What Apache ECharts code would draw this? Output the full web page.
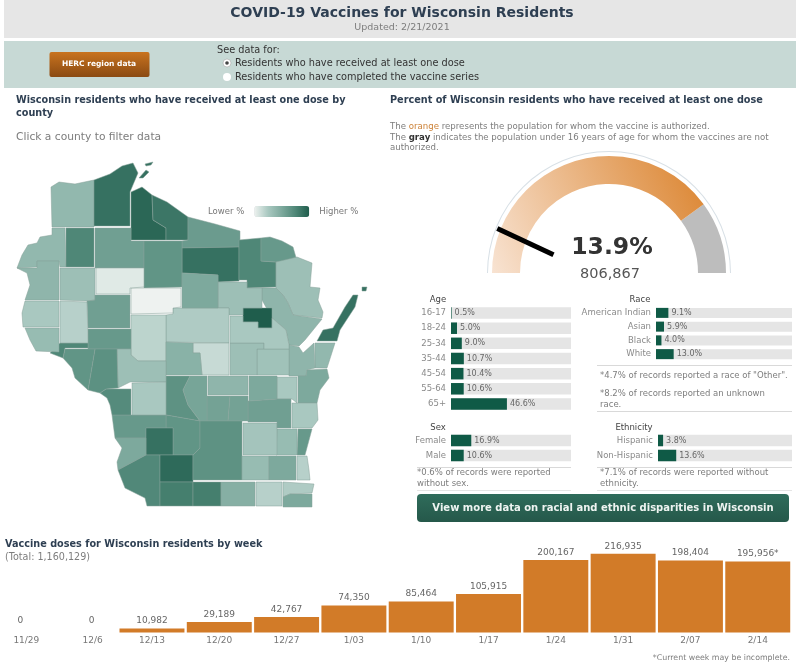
<!DOCTYPE html>
<html>
<head>
<meta charset="UTF-8">
<title>COVID-19 Vaccines for Wisconsin Residents</title>
<script src="https://cdn.jsdelivr.net/npm/echarts@6/dist/echarts.min.js"></script>
<style>
body,html{ padding:0; margin:0; background:#fff; }
#main{ width:800px; height:670px; }
</style>
</head>
<body>
<div id="main"></div>
<script>
// values
var weekLabels = ['11/29','12/6','12/13','12/20','12/27','1/03','1/10','1/17','1/24','1/31','2/07','2/14'];
var weekDoses = [0,0,10982,29189,42767,74350,85464,105915,200167,216935,198404,195956];

var gaugePct = 13.9;
var gaugeCount = '806,867';
var authorizedShare = 0.8;

var ageLabels = ['16-17','18-24','25-34','35-44','45-54','55-64','65+'];
var ageValues = [0.5,5.0,9.0,10.7,10.4,10.6,46.6];
var raceLabels = ['American Indian','Asian','Black','White'];
var raceValues = [9.1,5.9,4.0,13.0];
var sexLabels = ['Female','Male'];
var sexValues = [16.9,10.6];
var ethLabels = ['Hispanic','Non-Hispanic'];
var ethValues = [3.8,13.6];

// shade of each county, estimated as a percent from its colour
var countyPct = {
  Douglas:13.8, Bayfield:18.8, Ashland:19.4, Iron:18.5, Vilas:16.0, Oneida:18.8, Forest:17.5, Florence:16.2,
  Marinette:13.2, Oconto:14.0, Door:18.8, Kewaunee:13.8, Brown:14.0, Manitowoc:15.0, Calumet:12.5, Sheboygan:12.5,
  Ozaukee:16.2, Washington:13.5, Dodge:12.8, FondDuLac:15.7, Winnebago:15.0, Outagamie:13.0, Waupaca:13.2,
  Menominee:20, Langlade:13.2, Shawano:12.5, Marathon:12.3, Wood:11.8, Portage:11.4, Waushara:14.0,
  Marquette:15.5, GreenLake:15.5, Adams:14.3, Juneau:16.7, Columbia:15.3, Sauk:16.5, Vernon:16.2, Richland:18.8,
  Crawford:15.0, Grant:17.4, Iowa:19.2, Lafayette:18.0, Green:18.0, Dane:16.7, Rock:14.5, Walworth:12.0,
  Jefferson:13.5, Waukesha:15.0, Milwaukee:12.0, Racine:12.3, Kenosha:15.0, Burnett:13.8, Washburn:17.5,
  Sawyer:15.7, Price:16.5, Lincoln:15.0, Taylor:10, Rusk:10.5, Barron:13.2, Polk:14.0, Chippewa:15.7,
  EauClaire:16.2, Jackson:13.2, Monroe:12.5, LaCrosse:17.2, Trempealeau:16.8, Buffalo:16.5, Pepin:17.5,
  Pierce:13.5, StCroix:12.5, Dunn:12.0
};

// county outlines
var countyOutlines = {
  Douglas:[[[51,187],[59,182],[75,184],[94,180],[94,227],[52,227]]],
  Bayfield:[[[94,180],[110,174],[122,166],[133,163],[138,173],[130,192],[130,226],[94,226]],[[145,164],[153,162],[151,165],[146,166]],[[139,178],[146,170],[149,172],[143,178]]],
  Ashland:[[[131,192],[142,187],[152,195],[153,220],[166,228],[166,240],[131,240]]],
  Iron:[[[152,195],[167,202],[188,217],[188,240],[166,240],[166,228],[153,220]]],
  Vilas:[[[188,217],[215,224],[240,231],[240,247],[182,248],[182,241],[188,240]]],
  Oneida:[[[182,248],[239,247],[239,281],[218,282],[218,275],[182,273]]],
  Forest:[[[239,240],[261,238],[261,261],[276,262],[276,287],[247,288],[247,280],[239,280]]],
  Florence:[[[261,238],[270,237],[282,241],[293,247],[297,261],[276,262],[261,261]]],
  Marinette:[[[276,262],[297,257],[312,263],[310,287],[320,288],[318,300],[323,312],[322,318],[293,315],[288,303],[283,295],[276,288]]],
  Oconto:[[[262,288],[276,288],[283,295],[288,303],[293,315],[322,319],[305,340],[299,346],[289,345],[286,330],[272,318],[262,300]]],
  Door:[[[317,341],[323,330],[333,328],[345,307],[353,295],[358,295],[355,307],[340,330],[337,341]],[[362,287],[367,287],[366,291],[362,291]]],
  Kewaunee:[[[315,343],[335,343],[327,368],[315,368]]],
  Brown:[[[289,345],[299,347],[303,353],[314,343],[315,368],[307,370],[306,376],[289,376]]],
  Manitowoc:[[[307,370],[327,369],[329,378],[320,390],[317,403],[298,403],[298,376],[306,376]]],
  Calumet:[[[277,377],[297,377],[297,403],[292,399],[277,399]]],
  Sheboygan:[[[292,403],[317,403],[318,420],[312,428],[292,428]]],
  Ozaukee:[[[298,429],[312,429],[305,455],[297,455]]],
  Washington:[[[277,429],[297,429],[297,455],[276,455]]],
  Dodge:[[[243,423],[277,423],[277,455],[243,455]]],
  FondDuLac:[[[248,401],[277,399],[291,399],[291,428],[277,428],[277,422],[248,422]]],
  Winnebago:[[[249,376],[277,376],[277,399],[249,401]]],
  Outagamie:[[[257,349],[289,349],[289,375],[257,375]]],
  Waupaca:[[[230,343],[264,343],[264,349],[257,349],[257,375],[230,375]]],
  Menominee:[[[243,308],[272,308],[272,328],[258,328],[258,322],[243,322]]],
  Langlade:[[[218,282],[247,282],[247,288],[262,288],[262,308],[243,308],[243,315],[229,315],[229,308],[218,308]]],
  Shawano:[[[230,316],[243,316],[243,322],[258,322],[258,328],[272,328],[272,318],[286,330],[289,345],[289,349],[264,349],[264,343],[230,343]]],
  Marathon:[[[166,315],[173,314],[173,308],[229,308],[229,343],[166,342]]],
  Wood:[[[131,315],[166,315],[166,361],[138,361],[131,355]]],
  Portage:[[[193,343],[229,343],[229,375],[202,375],[200,353],[193,353]]],
  Waushara:[[[208,376],[248,376],[248,395],[208,395]]],
  Marquette:[[[207,396],[230,396],[228,421],[207,421]]],
  GreenLake:[[[230,396],[248,396],[248,421],[228,421]]],
  Adams:[[[166,342],[193,343],[193,353],[200,353],[202,375],[166,375]]],
  Juneau:[[[166,376],[190,376],[183,390],[188,405],[200,421],[166,415]]],
  Columbia:[[[190,376],[207,376],[207,421],[200,421],[188,405],[183,390]]],
  Sauk:[[[166,415],[200,421],[200,448],[193,455],[173,455],[173,428],[166,428]]],
  Vernon:[[[112,415],[166,415],[166,428],[146,428],[146,438],[115,438]]],
  Richland:[[[146,428],[173,428],[173,455],[146,455]]],
  Crawford:[[[115,438],[146,438],[146,455],[118,470],[117,462],[122,448]]],
  Grant:[[[118,470],[146,455],[160,455],[160,506],[147,506],[145,498],[125,488]]],
  Iowa:[[[160,455],[193,455],[193,482],[160,482]]],
  Lafayette:[[[160,482],[193,482],[193,506],[160,506]]],
  Green:[[[193,482],[221,482],[221,506],[193,506]]],
  Dane:[[[200,421],[242,421],[242,480],[193,480],[193,455],[200,448]]],
  Rock:[[[221,482],[255,482],[255,506],[221,506]]],
  Walworth:[[[256,482],[282,482],[282,506],[256,506]]],
  Jefferson:[[[242,456],[269,456],[269,480],[242,480]]],
  Waukesha:[[[269,456],[296,456],[296,480],[269,480]]],
  Milwaukee:[[[297,456],[307,456],[309,470],[310,480],[297,480]]],
  Racine:[[[283,482],[314,484],[312,493],[290,494],[283,497]]],
  Kenosha:[[[283,497],[290,494],[312,494],[312,507],[283,507]]],
  Burnett:[[[52,228],[65,228],[66,267],[60,267],[59,261],[37,261],[37,267],[17,268],[22,255],[28,245],[37,243],[40,237],[52,235]]],
  Washburn:[[[66,228],[94,228],[94,267],[66,267]]],
  Sawyer:[[[95,228],[131,228],[131,241],[144,241],[144,268],[95,268]]],
  Price:[[[144,241],[182,241],[182,287],[144,288]]],
  Lincoln:[[[182,273],[218,275],[218,308],[182,308]]],
  Taylor:[[[131,288],[181,288],[181,307],[173,308],[173,313],[131,314]]],
  Rusk:[[[96,268],[144,268],[144,287],[130,288],[130,294],[96,294]]],
  Barron:[[[60,268],[95,268],[95,300],[87,301],[60,300]]],
  Polk:[[[17,268],[37,268],[37,261],[59,261],[59,300],[25,300],[30,285],[27,273]]],
  Chippewa:[[[95,295],[130,295],[130,328],[88,328],[87,301],[95,300]]],
  EauClaire:[[[88,329],[131,329],[131,349],[88,349]]],
  Jackson:[[[117,349],[131,349],[131,355],[138,361],[166,361],[166,382],[130,382],[118,388]]],
  Monroe:[[[132,383],[166,382],[166,415],[132,415]]],
  LaCrosse:[[[106,389],[131,389],[131,415],[112,415],[110,405],[107,398],[100,393]]],
  Trempealeau:[[[95,349],[117,349],[118,388],[106,389],[100,393],[88,390]]],
  Buffalo:[[[65,349],[95,349],[88,390],[75,378],[72,368],[63,358]]],
  Pepin:[[[50,353],[60,343],[88,343],[88,348],[65,348],[63,358]]],
  Pierce:[[[25,328],[59,328],[59,352],[36,351],[30,340]]],
  StCroix:[[[25,301],[59,301],[59,327],[23,327],[22,313]]],
  Dunn:[[[60,301],[87,302],[88,343],[60,343]]]
};

var DARK = '#2e3f52', GRAY = '#7d7d7d';
var FONT = '"DejaVu Sans"';

function txt(x, y, s, size, color, extra) {
    var st = { x: x, y: y, text: s, font: (extra && extra.weight ? extra.weight + ' ' : '') + size + 'px ' + FONT,
        fill: color, textAlign: (extra && extra.align) || 'left', textVerticalAlign: 'middle' };
    if (extra && extra.rich) st.rich = extra.rich;
    return { type: 'text', z: 5, style: st };
}
function rect(x, y, w, h, fill, r) {
    return { type: 'rect', z: 1, shape: { x: x, y: y, width: w, height: h, r: r || 0 }, style: { fill: fill } };
}

var features = Object.keys(countyOutlines).map(function (name) {
    return { type: 'Feature', properties: { name: name },
        geometry: { type: 'MultiPolygon', coordinates: countyOutlines[name].map(function (r) { return [r]; }) } };
});
echarts.registerMap('wisconsin', { type: 'FeatureCollection', features: features });

var myChart = echarts.init(document.getElementById('main'));

var series = [{
    type: 'map', map: 'wisconsin', silent: true,
    left: 17, top: 162, width: 350, height: 345, aspectScale: 1,
    projection: { project: function (p) { return p; }, unproject: function (p) { return p; } },
    label: { show: false },
    itemStyle: { borderColor: '#86a099', borderWidth: 0.5 },
    data: Object.keys(countyPct).map(function (k) { return { name: k, value: countyPct[k] }; })
}, {
    type: 'gauge', startAngle: 180, endAngle: 0, min: 0, max: 100,
    center: [609, 273], radius: 122, silent: true,
    axisLine: { lineStyle: { width: 1, color: [[1, '#d8e0e6']] } },
    axisTick: { show: false }, splitLine: { show: false }, axisLabel: { show: false },
    pointer: { show: false }, anchor: { show: false }, title: { show: false }, detail: { show: false },
    data: [{ value: 0 }]
}, {
    type: 'gauge', startAngle: 180, endAngle: 0, min: 0, max: 100,
    center: [609, 273], radius: 117, silent: true,
    axisLine: { lineStyle: { width: 28, color: [
        [authorizedShare, new echarts.graphic.LinearGradient(0, 1, 1, 0.2, [
            { offset: 0, color: '#f8e3d2' }, { offset: 1, color: '#dc8734' }])],
        [1, '#bdbdbd']] } },
    axisTick: { show: false }, splitLine: { show: false }, axisLabel: { show: false },
    pointer: { show: true, icon: 'rect', width: 5, length: 62, offsetCenter: [-7, -58], itemStyle: { color: '#000' } },
    anchor: { show: false },
    title: { offsetCenter: [1, 1], fontSize: 14.5, color: '#555', fontFamily: FONT },
    detail: { offsetCenter: [3, -25], fontSize: 23.5, fontWeight: 'bold', color: '#333', fontFamily: FONT, formatter: '{value}%', valueAnimation: false },
    data: [{ value: gaugePct, name: gaugeCount }]
}];

// weekly doses
var grids = [{ left: -16.3, width: 807.7, top: 545.5, height: 87, outerBoundsMode: 'none' }];
var xAxes = [{ type: 'category', gridIndex: 0, data: weekLabels,
    axisLine: { show: false }, axisTick: { show: false },
    axisLabel: { fontSize: 9, color: '#777', fontFamily: FONT, margin: 4, interval: 0,
        formatter: function (v, i) { return i === 0 ? '{a|' + v + '}' : i === 1 ? '{b|' + v + '}' : v; },
        rich: { a: { padding: [0, 0, 0, 18], fontSize: 9, color: '#777', fontFamily: FONT }, b: { padding: [0, 0, 0, 16], fontSize: 9, color: '#777', fontFamily: FONT } } } }];
var yAxes = [{ type: 'value', gridIndex: 0, min: 0, max: 240000, show: false }];
series.push({
    type: 'bar', xAxisIndex: 0, yAxisIndex: 0, barCategoryGap: '3.5%',
    itemStyle: { color: '#d27b28' },
    label: { show: true, position: 'top', distance: 3, fontSize: 9, color: '#666', fontFamily: FONT,
        formatter: function (p) { return p.dataIndex === weekDoses.length - 1 ? p.value.toLocaleString('en-US') + '*' : p.value.toLocaleString('en-US'); } },
    data: weekDoses.map(function (v, i) {
        return v === 0 ? { value: v, label: { offset: [i === 0 ? 3 : 7, -4] } } : v;
    })
});

// small demographic bars
function statBars(left, width, top, height, barW, labels, values) {
    var i = grids.length;
    grids.push({ left: left, width: width, top: top, height: height, outerBoundsMode: 'none' });
    xAxes.push({ type: 'value', gridIndex: i, min: 0, max: 100, show: false });
    yAxes.push({ type: 'category', gridIndex: i, inverse: true, data: labels,
        axisLine: { show: false }, axisTick: { show: false },
        axisLabel: { fontSize: 8.5, color: '#8a8a8a', fontFamily: FONT, margin: 5, interval: 0 } });
    series.push({
        type: 'bar', xAxisIndex: i, yAxisIndex: i, barWidth: barW,
        showBackground: true, backgroundStyle: { color: '#e5e5e5' },
        itemStyle: { color: '#0f5a46' },
        label: { show: true, position: 'right', distance: 3, fontSize: 8, color: '#666', fontFamily: FONT,
            formatter: function (p) { return p.value.toFixed(1) + '%'; } },
        data: values
    });
}
statBars(451, 120, 305.5, 106, 11.5, ageLabels, ageValues);
statBars(656, 136, 306, 55, 10, raceLabels, raceValues);
statBars(451, 120, 433, 30, 11.5, sexLabels, sexValues);
statBars(658, 134, 433, 30, 11.5, ethLabels, ethValues);

var small = 8.6, note = 8.5;
var graphic = [
    rect(4, 0, 792, 38, '#e6e6e6'),
    rect(4, 41, 792, 47, '#c7d9d5'),
    { type: 'rect', z: 2, shape: { x: 49.5, y: 52, width: 100, height: 25, r: 2 },
      style: { fill: new echarts.graphic.LinearGradient(0, 0, 0, 1, [{ offset: 0, color: '#c9731f' }, { offset: 1, color: '#8a4a12' }]) } },
    txt(99, 64.5, 'HERC region data', 7.5, '#fff', { align: 'center', weight: 'bold' }),
    txt(217, 50, 'See data for:', 9.75, '#333'),
    { type: 'circle', z: 3, shape: { cx: 227, cy: 63, r: 4 }, style: { fill: '#fff', stroke: '#999', lineWidth: 0.5 } },
    { type: 'circle', z: 4, shape: { cx: 227, cy: 63, r: 1.8 }, style: { fill: '#444' } },
    { type: 'circle', z: 3, shape: { cx: 227, cy: 77, r: 4 }, style: { fill: '#fff' } },
    txt(235, 63, 'Residents who have received at least one dose', 9.75, '#333'),
    txt(235, 77, 'Residents who have completed the vaccine series', 9.75, '#333'),
    txt(402, 13.5, 'COVID-19 Vaccines for Wisconsin Residents', 14, DARK, { align: 'center', weight: 'bold' }),
    txt(402, 28, 'Updated: 2/21/2021', 9.5, GRAY, { align: 'center' }),
    txt(16, 100, 'Wisconsin residents who have received at least one dose by', 9.7, DARK, { weight: 'bold' }),
    txt(16, 113, 'county', 9.7, DARK, { weight: 'bold' }),
    txt(16, 137, 'Click a county to filter data', 10.7, GRAY),
    txt(390, 100, 'Percent of Wisconsin residents who have received at least one dose', 9.7, DARK, { weight: 'bold' }),
    txt(390, 127, 'The {o|orange} represents the population for whom the vaccine is authorized.', small, GRAY,
        { rich: { o: { fill: '#cc8238', font: small + 'px ' + FONT } } }),
    txt(390, 137.5, 'The {g|gray} indicates the population under 16 years of age for whom the vaccines are not', small, GRAY,
        { rich: { g: { fill: '#333', font: 'bold ' + small + 'px ' + FONT } } }),
    txt(390, 148, 'authorized.', small, GRAY),
    txt(438, 300, 'Age', 8.5, '#444', { align: 'center' }),
    txt(640, 300, 'Race', 8.5, '#444', { align: 'center' }),
    txt(438, 428, 'Sex', 8.5, '#444', { align: 'center' }),
    txt(634, 428, 'Ethnicity', 8.5, '#444', { align: 'center' }),
    rect(597, 365, 195, 0.7, '#ccc'),
    txt(600, 376, '*4.7% of records reported a race of "Other".', note, GRAY),
    txt(600, 394, '*8.2% of records reported an unknown', note, GRAY),
    txt(600, 405, 'race.', note, GRAY),
    rect(597, 411, 195, 0.7, '#ccc'),
    rect(417, 467, 154, 0.7, '#ccc'),
    txt(417, 473, '*0.6% of records were reported', note, GRAY),
    txt(417, 484, 'without sex.', note, GRAY),
    rect(417, 490, 154, 0.7, '#ddd'),
    rect(597, 467, 195, 0.7, '#ccc'),
    txt(600, 473, '*7.1% of records were reported without', note, GRAY),
    txt(600, 484, 'ethnicity.', note, GRAY),
    rect(597, 490, 195, 0.7, '#ddd'),
    { type: 'rect', z: 2, shape: { x: 417, y: 494, width: 372, height: 28, r: 4 },
      style: { fill: new echarts.graphic.LinearGradient(0, 0, 0, 1, [{ offset: 0, color: '#2f6c5b' }, { offset: 1, color: '#25584a' }]) } },
    txt(603, 508.5, 'View more data on racial and ethnic disparities in Wisconsin', 10, '#eef4f1', { align: 'center', weight: 'bold' }),
    txt(5, 544, 'Vaccine doses for Wisconsin residents by week', 9.7, DARK, { weight: 'bold' }),
    txt(5, 557, '(Total: 1,160,129)', 9.6, GRAY),
    txt(790, 658, '*Current week may be incomplete.', 7.85, GRAY, { align: 'right' })
];

var option = {
    animation: false,
    backgroundColor: '#fff',
    textStyle: { fontFamily: FONT },
    visualMap: {
        type: 'continuous', seriesIndex: 0, min: 10, max: 20, orient: 'horizontal',
        left: 193, top: 191, itemWidth: 11, itemHeight: 55, itemGap: 10, calculable: false, hoverLink: false, realtime: false,
        text: ['Higher %', 'Lower %'], textStyle: { fontSize: 8.5, color: '#777', fontFamily: FONT },
        inRange: { color: ['#eef2f0', '#a9c8c0', '#7da99d', '#4f8777', '#1f5d4c'] }
    },
    graphic: graphic,
    grid: grids,
    xAxis: xAxes,
    yAxis: yAxes,
    series: series
};
myChart.setOption(option);
</script>
</body>
</html>
